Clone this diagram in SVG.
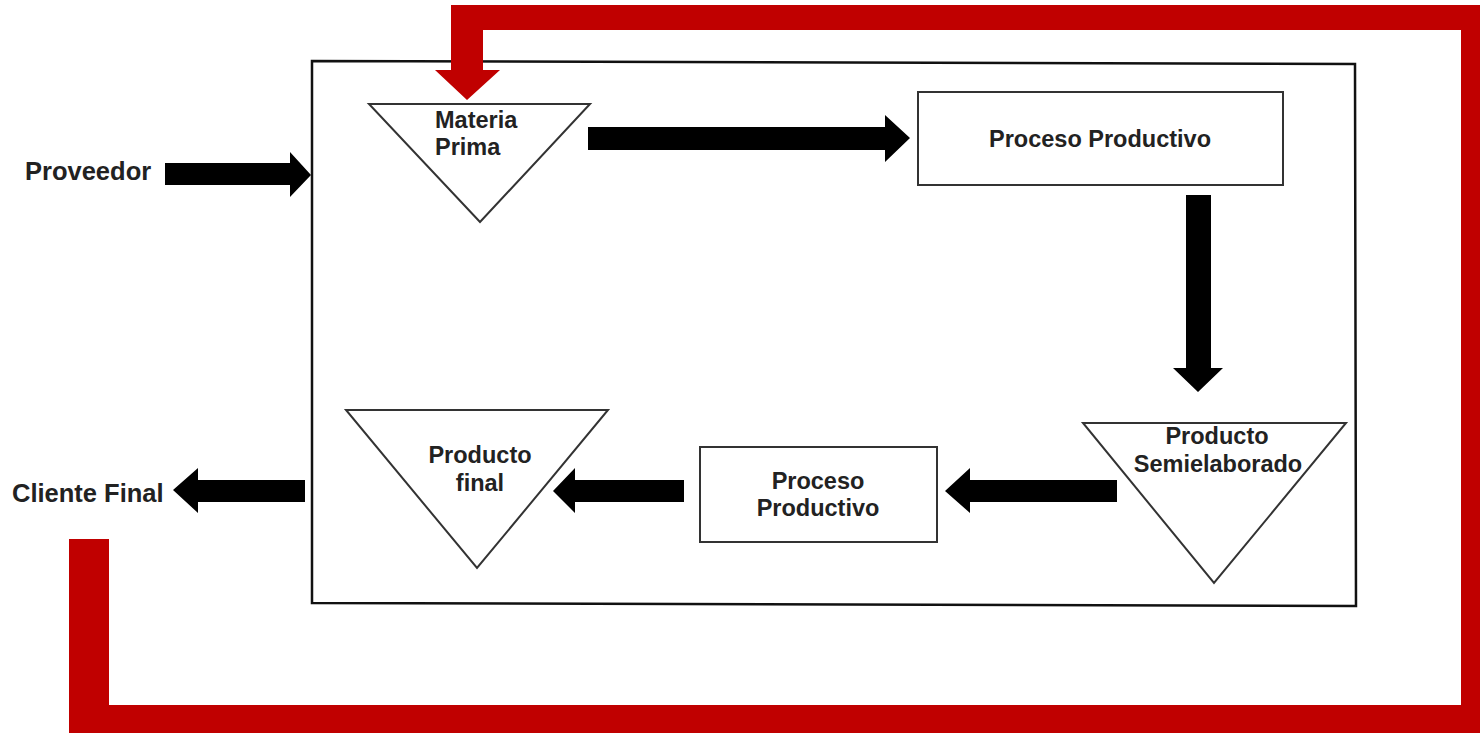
<svg xmlns="http://www.w3.org/2000/svg" width="1480" height="733" viewBox="0 0 1480 733">
<style>
.frame{fill:none;stroke:#111;stroke-width:2.5}
.shape{fill:#fff;stroke:#333;stroke-width:2}
.arrow{fill:#000}
.loop{fill:#C00000}
.lbl{font-family:"Liberation Sans",Arial,sans-serif;font-weight:bold;font-size:23.5px;fill:#222}
.out{font-size:25.5px}
.c{text-anchor:middle}
</style>
<rect width="1480" height="733" fill="#fff"/>
<g id="sistema">
<polygon class="frame" points="312,61 1355,64 1356,606 312,603"/>
</g>
<g id="proveedor">
<text class="lbl out" x="25" y="180">Proveedor</text>
</g>
<g id="cliente-final">
<text class="lbl out" x="12" y="502">Cliente Final</text>
</g>
<g id="materia-prima">
<polygon class="shape" points="369,104 590,104 480,222"/>
<text class="lbl" x="435" y="128">Materia</text>
<text class="lbl" x="435" y="155">Prima</text>
</g>
<g id="proceso-productivo-1">
<rect class="shape" x="918" y="92" width="365" height="93"/>
<text class="lbl c" x="1100" y="147">Proceso Productivo</text>
</g>
<g id="producto-semielaborado">
<polygon class="shape" points="1083,423 1346,423 1214,583"/>
<text class="lbl c" x="1217" y="444">Producto</text>
<text class="lbl c" x="1218" y="472">Semielaborado</text>
</g>
<g id="proceso-productivo-2">
<rect class="shape" x="700" y="447" width="237" height="95"/>
<text class="lbl c" x="818" y="489">Proceso</text>
<text class="lbl c" x="818" y="516">Productivo</text>
</g>
<g id="producto-final">
<polygon class="shape" points="346,410 608,410 477,568"/>
<text class="lbl c" x="480" y="463">Producto</text>
<text class="lbl c" x="480" y="491">final</text>
</g>
<g id="connectors">
<polygon class="arrow" points="165,163 290,163 290,152 311,175 290,197 290,185 165,185"/>
<polygon class="arrow" points="588,127 885,127 885,115 910,138 885,162 885,150 588,150"/>
<polygon class="arrow" points="1186,195 1211,195 1211,368 1223,368 1198,392 1173,368 1186,368"/>
<polygon class="arrow" points="1117,480 970,480 970,468 945,491 970,513 970,502 1117,502"/>
<polygon class="arrow" points="684,480 575,480 575,468 553,491 575,513 575,502 684,502"/>
<polygon class="arrow" points="305,480 198,480 198,468 173,490 198,513 198,502 305,502"/>
<polygon class="loop" points="69,539 109,539 109,705 1461,705 1461,30 483,30 483,70 500,70 467,100 435,70 451,70 451,5 1485,5 1485,740 69,740"/>
</g>
</svg>
